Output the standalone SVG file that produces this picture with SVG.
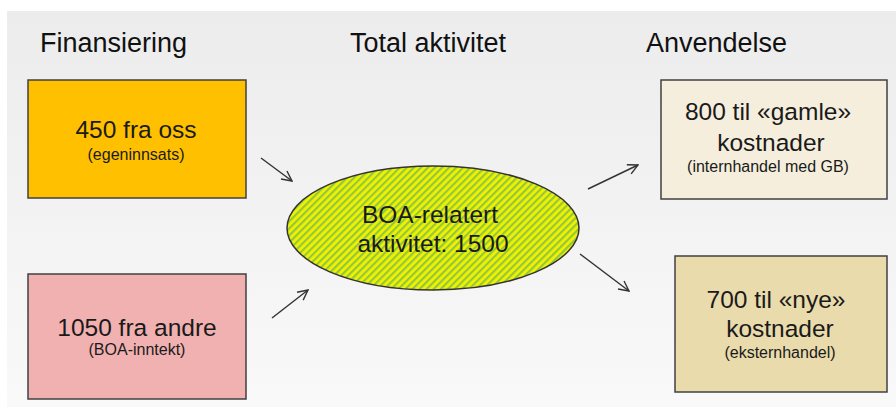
<svg xmlns="http://www.w3.org/2000/svg" width="896" height="407" viewBox="0 0 896 407">
<defs>
<linearGradient id="bg" x1="0" y1="0" x2="0" y2="1">
<stop offset="0" stop-color="#ececec"/>
<stop offset="1" stop-color="#f9f9f9"/>
</linearGradient>
<pattern id="hatch" width="5" height="5" patternUnits="userSpaceOnUse" patternTransform="rotate(45)">
<rect width="5" height="5" fill="#f2f200"/>
<rect width="2.2" height="5" fill="#93c83c"/>
</pattern>
<marker id="arr" viewBox="0 0 12 12" refX="11" refY="6" markerWidth="12" markerHeight="12" markerUnits="userSpaceOnUse" orient="auto">
<path d="M1,1 L11,6 L1,11" fill="none" stroke="#333" stroke-width="1.4"/>
</marker>
</defs>
<style>
.box{stroke:#404040;stroke-width:1.5}
.hdr{font-family:"Liberation Sans",Arial,sans-serif;font-size:27px;fill:#111}
.main{font-family:"Liberation Sans",Arial,sans-serif;font-size:24.5px;fill:#1a1a1a;text-anchor:middle}
.sub{font-family:"Liberation Sans",Arial,sans-serif;font-size:16px;fill:#1a1a1a;text-anchor:middle}
.conn{stroke:#333;stroke-width:1.4;fill:none}
</style>
<rect x="7" y="11" width="889" height="396" fill="url(#bg)"/>
<text class="hdr" x="40" y="52">Finansiering</text>
<text class="hdr" x="350" y="52">Total aktivitet</text>
<text class="hdr" x="646" y="52">Anvendelse</text>
<g id="egen">
<rect class="box" x="28" y="80" width="218" height="118" fill="#ffc000"/>
<text class="main" x="136" y="138">450 fra oss</text>
<text class="sub" x="136" y="160">(egeninnsats)</text>
</g>
<g id="andre">
<rect class="box" x="28" y="274" width="218" height="125" fill="#f2b1b1"/>
<text class="main" x="137" y="336">1050 fra andre</text>
<text class="sub" x="137" y="355">(BOA-inntekt)</text>
</g>
<g id="boa">
<ellipse cx="433" cy="228" rx="146" ry="62" fill="url(#hatch)" stroke="#333" stroke-width="1.5"/>
<text class="main" x="430" y="223">BOA-relatert</text>
<text class="main" x="433" y="252">aktivitet: 1500</text>
</g>
<g id="gamle">
<rect class="box" x="661" y="80" width="226" height="119" fill="#f5eedc"/>
<text class="main" x="768" y="120">800 til «gamle»</text>
<text class="main" x="771" y="151">kostnader</text>
<text class="sub" x="768" y="172">(internhandel med GB)</text>
</g>
<g id="nye">
<rect class="box" x="675" y="256" width="212" height="136" fill="#eadbac"/>
<text class="main" x="776" y="308">700 til «nye»</text>
<text class="main" x="780" y="337">kostnader</text>
<text class="sub" x="780" y="358">(eksternhandel)</text>
</g>
<g id="connectors">
<line class="conn" x1="261" y1="158" x2="292" y2="181" marker-end="url(#arr)"/>
<line class="conn" x1="272" y1="318" x2="308" y2="290" marker-end="url(#arr)"/>
<line class="conn" x1="588" y1="189" x2="638" y2="165" marker-end="url(#arr)"/>
<line class="conn" x1="580" y1="254" x2="629" y2="291" marker-end="url(#arr)"/>
</g>
</svg>
